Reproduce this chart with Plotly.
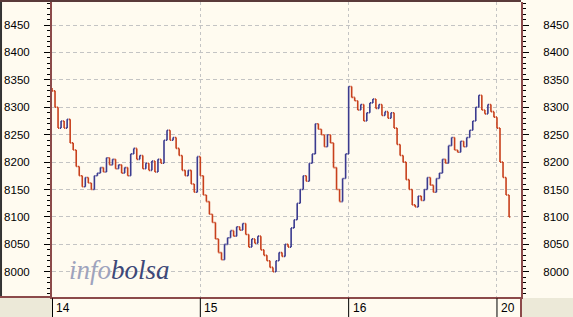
import plotly.graph_objects as go

day_labels = ["14", "15", "16", "20"]

close_14 = [8330, 8300, 8262, 8275, 8262, 8278, 8235, 8222, 8192, 8175,
            8155, 8172, 8162, 8150, 8175, 8180, 8190, 8182, 8208, 8195,
            8205, 8188, 8195, 8180, 8190, 8175, 8215, 8225, 8205, 8212,
            8188, 8198, 8185, 8202, 8182, 8205, 8198, 8240, 8258, 8240,
            8245, 8225, 8212, 8185, 8175, 8185, 8160, 8145, 8210]
close_15 = [8175, 8140, 8128, 8105, 8090, 8060, 8035, 8022, 8050, 8062,
            8075, 8065, 8082, 8076, 8088, 8068, 8045, 8060, 8052, 8065,
            8040, 8030, 8020, 8008, 8000, 8020, 8035, 8028, 8050, 8045,
            8080, 8095, 8125, 8150, 8175, 8165, 8198, 8215, 8270, 8260,
            8250, 8228, 8250, 8235, 8190, 8150, 8128, 8170, 8215]
close_16 = [8338, 8318, 8312, 8295, 8305, 8275, 8290, 8308, 8315, 8298,
            8305, 8285, 8292, 8280, 8290, 8262, 8232, 8212, 8200, 8168,
            8150, 8122, 8118, 8138, 8130, 8150, 8172, 8158, 8145, 8170,
            8180, 8205, 8198, 8230, 8245, 8222, 8218, 8238, 8228, 8245,
            8258, 8275, 8300, 8322, 8295, 8288, 8305, 8292, 8282]
close_20 = [8262, 8200, 8172, 8140, 8100]

sessions = [close_14, close_15, close_16, close_20]
first_open = 8335

xs, opens, highs, lows, closes = [], [], [], [], []
prev = first_open
for d, sess in enumerate(sessions):
    for j, c in enumerate(sess):
        xs.append(d + j / 49)
        opens.append(prev)
        closes.append(c)
        highs.append(max(prev, c))
        lows.append(min(prev, c))
        prev = c

BROWN = "#8c4a4a"
CREAM = "#fffbf0"
GRAY = "#ece9d8"
FONT = "Liberation Sans"

fig = go.Figure()
fig.add_trace(go.Ohlc(
    x=xs, open=opens, high=highs, low=lows, close=closes,
    increasing=dict(line=dict(color="#3b3b8f", width=1.6)),
    decreasing=dict(line=dict(color="#c8401c", width=1.6)),
    tickwidth=0.4, showlegend=False, hoverinfo="skip",
))
fig.add_trace(go.Scatter(x=[0], y=[8000], yaxis="y2", mode="markers",
                         marker=dict(opacity=0), showlegend=False, hoverinfo="skip"))

yr = [7954, 8492]
ycommon = dict(
    range=yr, tickvals=[8000, 8050, 8100, 8150, 8200, 8250, 8300, 8350, 8400, 8450],
    ticks="outside", ticklen=6, tickcolor="#000000", tickwidth=1,
    showline=True, linecolor=BROWN, linewidth=2,
    tickfont=dict(family=FONT, size=11.5, color="#000000"),
    minor=dict(dtick=10, tick0=8000, ticks="outside", ticklen=3, tickcolor="#000000", showgrid=False),
    ticklabelstandoff=12, zeroline=False,
)

fig.update_layout(
    width=573, height=317,
    margin=dict(l=52, r=52, t=2, b=20),
    paper_bgcolor=CREAM, plot_bgcolor=CREAM,
    xaxis=dict(range=[0, 3.162], tickvals=[0, 1, 2, 3], showticklabels=False,
               ticks="", showgrid=True, gridcolor="#c4c4c4", griddash="3px,3px", gridwidth=1,
               showline=True, linecolor=BROWN, linewidth=2, zeroline=False,
               rangeslider=dict(visible=False)),
    yaxis=dict(side="left", showgrid=True, gridcolor="#c4c4c4", griddash="4px,3px", gridwidth=1, **ycommon),
    yaxis2=dict(side="right", overlaying="y", showgrid=False, **ycommon),
)

shapes = []
shapes.append(dict(type="rect", xref="paper", yref="paper", x0=-0.12, x1=0, y0=-0.08, y1=-0.0034,
                   fillcolor=GRAY, line=dict(width=0), layer="below"))
shapes.append(dict(type="rect", xref="paper", yref="paper", x0=1.0021, x1=1.12, y0=-0.08, y1=-0.0034,
                   fillcolor=GRAY, line=dict(width=0), layer="below"))
shapes.append(dict(type="line", xref="paper", yref="paper", x0=-0.1087, x1=-0.1087, y0=1.01, y1=0,
                   line=dict(color="#333333", width=2)))
shapes.append(dict(type="line", xref="paper", yref="paper", x0=-0.12, x1=1.0, y0=1.0034, y1=1.0034,
                   line=dict(color="#5a3a3a", width=2)))
shapes.append(dict(type="line", xref="paper", yref="paper", x0=-0.12, x1=0, y0=0, y1=0,
                   line=dict(color=BROWN, width=2)))
shapes.append(dict(type="line", xref="paper", yref="paper", x0=1.0, x1=1.0, y0=0, y1=-0.08,
                   line=dict(color=BROWN, width=2)))
for d in range(len(day_labels)):
    shapes.append(dict(type="line", xref="x", yref="paper", x0=d, x1=d, y0=-0.004, y1=-0.08,
                       line=dict(color="#000000", width=2 if d == 0 else 1)))
fig.update_layout(shapes=shapes)

annotations = []
for d, lab in enumerate(day_labels):
    annotations.append(dict(x=d, y=-0.036, xref="x", yref="paper", text=lab, showarrow=False,
                            xanchor="left", yanchor="middle", xshift=2,
                            font=dict(family=FONT, size=12, color="#000000")))
annotations.append(dict(x=0.032, y=0.092, xref="paper", yref="paper", showarrow=False,
                        xanchor="left", yanchor="middle",
                        text="<i><span style='color:#9ea3bd'>info</span><span style='color:#3d4878'>bolsa</span></i>",
                        font=dict(family="Liberation Serif", size=27)))
fig.update_layout(annotations=annotations)

fig.write_html("out.html")
